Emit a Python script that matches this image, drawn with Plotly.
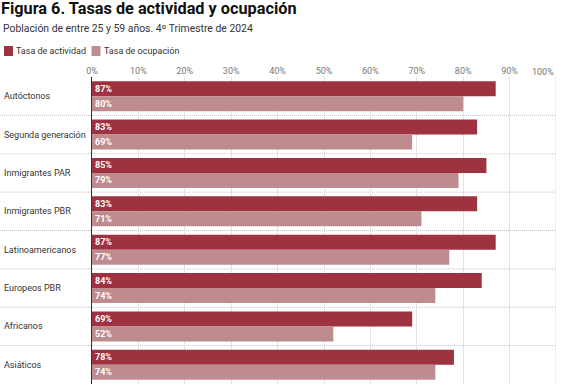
import plotly.graph_objects as go

categories = ["Autóctonos", "Segunda generación", "Inmigrantes PAR", "Inmigrantes PBR",
              "Latinoamericanos", "Europeos PBR", "Africanos", "Asiáticos"]
actividad = [87, 83, 85, 83, 87, 84, 69, 78]
ocupacion = [80, 69, 79, 71, 77, 74, 52, 74]
tick_vals = [0, 10, 20, 30, 40, 50, 60, 70, 80, 90]
tick_text = [f"{v}%" for v in tick_vals]

C_ACT = "#9e3240"
C_OCC = "#be8c8e"
FONT = "Roboto"

W, H = 569, 386
L, R, T, B = 92, 13, 77, 2
pw, ph = W - L - R, H - T - B

def px(x):
    return (x - L) / pw

def py(y):
    return (H - B - y) / ph

fig = go.Figure()
for name, vals, col in [("Tasa de actividad", actividad, C_ACT), ("Tasa de ocupación", ocupacion, C_OCC)]:
    fig.add_trace(go.Bar(
        y=categories, x=vals, orientation="h", name=name, marker_color=col,
        marker_line_width=0,
        text=[f"{v}%" for v in vals], textposition="inside", insidetextanchor="start",
        textangle=0, constraintext="none",
        textfont=dict(family=FONT, size=9, color="white", weight="bold"),
        hoverinfo="skip",
    ))

shapes = []
for i in range(len(categories) - 1):
    shapes.append(dict(type="line", xref="paper", yref="y", x0=px(0), x1=1,
                       y0=i + 0.5, y1=i + 0.5, line=dict(color="#c4c4c4", width=1, dash="1px,1px"),
                       layer="below"))

annotations = []
for c in categories:
    annotations.append(dict(text=c, xref="paper", yref="y", x=px(2), y=c, xanchor="left",
                            yanchor="middle", showarrow=False,
                            font=dict(family=FONT, size=9, color="#333333")))
annotations.append(dict(text="100%", xref="x", yref="paper", x=100, y=py(72), xanchor="right",
                        yanchor="middle", showarrow=False, font=dict(family=FONT, size=9, color="#777777")))
annotations.append(dict(text="<b>Figura 6. Tasas de actividad y ocupación</b>", xref="paper", yref="paper",
                        x=px(-1), y=py(9), xanchor="left", yanchor="middle", showarrow=False,
                        font=dict(family=FONT, size=16.3, color="#111111")))
annotations.append(dict(text="Población de entre 25 y 59 años. 4º Trimestre de 2024", xref="paper", yref="paper",
                        x=px(1), y=py(29), xanchor="left", yanchor="middle", showarrow=False,
                        font=dict(family=FONT, size=10.4, color="#333333")))
# legend
leg = [("Tasa de actividad", C_ACT, 4), ("Tasa de ocupación", C_OCC, 91.5)]
for name, col, x0 in leg:
    shapes.append(dict(type="rect", xref="paper", yref="paper", x0=px(x0), x1=px(x0 + 9),
                       y0=py(56), y1=py(46), fillcolor=col, line_width=0))
    annotations.append(dict(text=name, xref="paper", yref="paper", x=px(x0 + 10), y=py(51),
                            xanchor="left", yanchor="middle", showarrow=False,
                            font=dict(family=FONT, size=9, color="#333333")))

fig.update_layout(
    width=W, height=H, margin=dict(l=L, r=R, t=T, b=B),
    paper_bgcolor="white", plot_bgcolor="white",
    barmode="group", bargap=0.22, bargroupgap=0,
    showlegend=False,
    shapes=shapes, annotations=annotations,
    font=dict(family=FONT),
    xaxis=dict(side="top", range=[0, 100], tickvals=tick_vals, ticktext=tick_text,
               showgrid=True, gridcolor="#e2e2e2", gridwidth=1, zeroline=False,
               ticks="", tickfont=dict(family=FONT, size=9, color="#777777"),
               fixedrange=True),
    yaxis=dict(autorange="reversed", showticklabels=False, ticks="", showgrid=False,
               showline=True, linecolor="#333333", linewidth=1, zeroline=False),
)
fig.add_shape(type="line", xref="x", yref="paper", x0=100, x1=100, y0=0, y1=1,
              line=dict(color="#e2e2e2", width=1), layer="below")

fig.write_html("out.html", config={"displayModeBar": False},
               post_script="document.body.style.margin='0';document.body.style.padding='0';")
